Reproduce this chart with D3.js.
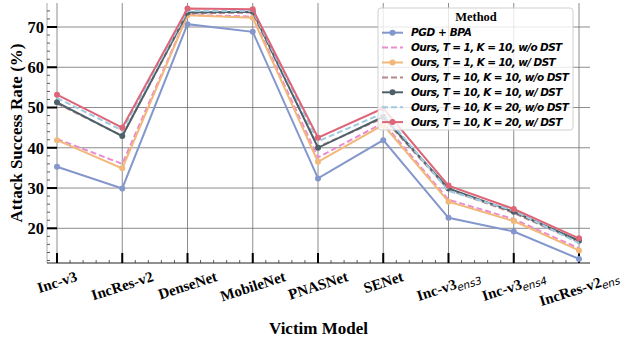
<!DOCTYPE html>
<html>
<head>
<meta charset="utf-8">
<script src="https://cdn.jsdelivr.net/npm/d3@7"></script>
<style>
  body { margin: 0; background: #fff; }
  svg { display: block; }
</style>
</head>
<body>
<div id="chart"></div>
<script>
// victim models (x axis), subscript part kept apart
const models = ["Inc-v3", "IncRes-v2", "DenseNet", "MobileNet", "PNASNet", "SENet", "Inc-v3", "Inc-v3", "IncRes-v2"]
const modelSubs = ["", "", "", "", "", "", "ens3", "ens4", "ens"]

// attack success rate (%) per method
const pgdBpa          = [35.3, 29.9, 70.7, 68.8, 32.4, 41.9, 22.6, 19.2, 12.4]
const oursT1K10woDst  = [42.2, 36.0, 73.0, 72.6, 37.6, 46.2, 27.1, 22.3, 15.0]
const oursT1K10wDst   = [41.9, 34.9, 72.9, 72.3, 36.5, 45.7, 26.6, 21.8, 14.5]
const oursT10K10woDst = [51.0, 43.0, 73.4, 73.6, 40.2, 47.4, 29.6, 23.8, 16.6]
const oursT10K10wDst  = [51.3, 42.9, 73.6, 73.8, 40.0, 47.7, 29.9, 24.1, 16.9]
const oursT10K20woDst = [52.4, 44.3, 74.0, 74.0, 41.6, 48.6, 29.3, 24.4, 16.3]
const oursT10K20wDst  = [53.2, 45.0, 74.6, 74.4, 42.5, 49.8, 30.6, 24.8, 17.5]

const yTicks = [20, 30, 40, 50, 60, 70]

const methods = [
    {name: "PGD + BPA",                   values: pgdBpa,          color: "#8497cc", dashed: false},
    {name: "Ours, T = 1, K = 10, w/o DST",  values: oursT1K10woDst,  color: "#ea8cd0", dashed: true},
    {name: "Ours, T = 1, K = 10, w/ DST",   values: oursT1K10wDst,   color: "#f2b87a", dashed: false},
    {name: "Ours, T = 10, K = 10, w/o DST", values: oursT10K10woDst, color: "#b5888a", dashed: true},
    {name: "Ours, T = 10, K = 10, w/ DST",  values: oursT10K10wDst,  color: "#4e6068", dashed: false},
    {name: "Ours, T = 10, K = 20, w/o DST", values: oursT10K20woDst, color: "#9dcbe2", dashed: true},
    {name: "Ours, T = 10, K = 20, w/ DST",  values: oursT10K20wDst,  color: "#dd6577", dashed: false}
]

const width = 621, height = 344
const plot = {left: 47, right: 590, top: 3, bottom: 263}

const x = d3.scaleLinear().domain([0, models.length - 1]).range([57, 579])
const y = d3.scaleLinear().domain([20, 70]).range([228.3, 27])

const svg = d3.select("#chart").append("svg")
    .attr("width", width)
    .attr("height", height)

const serif = "'Liberation Serif', 'Times New Roman', serif"
const sans = "'DejaVu Sans', sans-serif"

// grid
svg.append("g")
    .selectAll("line")
    .data(yTicks)
    .join("line")
    .attr("x1", plot.left).attr("x2", plot.right)
    .attr("y1", d => y(d)).attr("y2", d => y(d))
    .attr("stroke", "#6e6e6e").attr("stroke-width", 0.8)

svg.append("g")
    .selectAll("line")
    .data(models)
    .join("line")
    .attr("x1", (d, i) => x(i)).attr("x2", (d, i) => x(i))
    .attr("y1", plot.top).attr("y2", plot.bottom)
    .attr("stroke", "#6e6e6e").attr("stroke-width", 0.8)

// spines
svg.append("line")
    .attr("x1", plot.left).attr("x2", plot.left)
    .attr("y1", plot.top).attr("y2", plot.bottom)
    .attr("stroke", "#aaa").attr("stroke-width", 1)
svg.append("line")
    .attr("x1", plot.left).attr("x2", plot.right)
    .attr("y1", plot.bottom).attr("y2", plot.bottom)
    .attr("stroke", "#222").attr("stroke-width", 1)

// ticks, pointing inward
svg.append("g")
    .selectAll("line")
    .data(yTicks)
    .join("line")
    .attr("x1", plot.left).attr("x2", plot.left + 10)
    .attr("y1", d => y(d)).attr("y2", d => y(d))
    .attr("stroke", "#000").attr("stroke-width", 2)

const yMinor = d3.range(12, 77, 2).filter(v => v % 10 != 0 && y(v) > plot.top)
svg.append("g")
    .selectAll("line")
    .data(yMinor)
    .join("line")
    .attr("x1", plot.left).attr("x2", plot.left + 3)
    .attr("y1", d => y(d)).attr("y2", d => y(d))
    .attr("stroke", "#333").attr("stroke-width", 0.8)

svg.append("g")
    .selectAll("line")
    .data(models)
    .join("line")
    .attr("x1", (d, i) => x(i)).attr("x2", (d, i) => x(i))
    .attr("y1", plot.bottom).attr("y2", plot.bottom - 10)
    .attr("stroke", "#000").attr("stroke-width", 2)

var xMinor = []
for (let i = 0; i < models.length - 1; i++) {
    for (let j = 1; j < 5; j++) xMinor.push(i + j / 5)
}
svg.append("g")
    .selectAll("line")
    .data(xMinor)
    .join("line")
    .attr("x1", d => x(d)).attr("x2", d => x(d))
    .attr("y1", plot.bottom).attr("y2", plot.bottom - 3)
    .attr("stroke", "#333").attr("stroke-width", 0.8)

// y tick labels
svg.append("g")
    .selectAll("text")
    .data(yTicks)
    .join("text")
    .attr("x", plot.left - 3)
    .attr("y", d => y(d))
    .attr("dy", "0.35em")
    .attr("text-anchor", "end")
    .style("font-family", serif)
    .style("font-weight", "bold")
    .style("font-size", "16.5px")
    .text(d => d)

// x tick labels, rotated, top of their box just under the axis
const angle = 18
const rad = angle * Math.PI / 180
models.forEach(function(m, i) {
    const g = svg.append("g")
    const t = g.append("text")
        .attr("text-anchor", "middle")
        .attr("dy", "0.35em")
        .style("font-family", serif)
        .style("font-weight", "bold")
        .style("font-size", "15px")
    t.append("tspan").text(m)
    if (modelSubs[i]) {
        t.append("tspan")
            .attr("dy", 3)
            .style("font-family", sans)
            .style("font-style", "italic")
            .style("font-weight", "normal")
            .style("font-size", "10.5px")
            .text(modelSubs[i])
    }
    const w = t.node().getComputedTextLength()
    const h = 12
    const cy = 270 + (w * Math.sin(rad) + h * Math.cos(rad)) / 2
    g.attr("transform", `translate(${x(i)},${cy}) rotate(${-angle})`)
})

// axis titles
svg.append("text")
    .attr("x", (plot.left + plot.right) / 2)
    .attr("y", 334)
    .attr("text-anchor", "middle")
    .style("font-family", serif)
    .style("font-weight", "bold")
    .style("font-size", "17px")
    .text("Victim Model")

svg.append("text")
    .attr("transform", `translate(22,${(plot.top + plot.bottom) / 2}) rotate(-90)`)
    .attr("text-anchor", "middle")
    .style("font-family", serif)
    .style("font-weight", "bold")
    .style("font-size", "17px")
    .text("Attack Success Rate (%)")

// lines
const line = d3.line()
    .x((d, i) => x(i))
    .y(d => y(d))

methods.forEach(function(m) {
    svg.append("path")
        .datum(m.values)
        .attr("d", line)
        .attr("fill", "none")
        .attr("stroke", m.color)
        .attr("stroke-width", 2)
        .attr("stroke-dasharray", m.dashed ? "6,3" : null)
    if (!m.dashed) {
        svg.append("g")
            .selectAll("circle")
            .data(m.values)
            .join("circle")
            .attr("cx", (d, i) => x(i))
            .attr("cy", d => y(d))
            .attr("r", 3)
            .attr("fill", m.color)
    }
})

// legend
const lg = svg.append("g").attr("transform", "translate(378,8)")
lg.append("rect")
    .attr("width", 195).attr("height", 122)
    .attr("rx", 3)
    .attr("fill", "#fff").attr("fill-opacity", 0.8)
    .attr("stroke", "#d0d0d0").attr("stroke-width", 1)
lg.append("text")
    .attr("x", 98).attr("y", 9)
    .attr("dy", "0.35em")
    .attr("text-anchor", "middle")
    .style("font-family", serif)
    .style("font-weight", "bold")
    .style("font-size", "12.5px")
    .text("Method")

methods.forEach(function(m, i) {
    const row = lg.append("g").attr("transform", `translate(0,${24.7 + i * 14.9})`)
    row.append("line")
        .attr("x1", 4).attr("x2", 25)
        .attr("stroke", m.color).attr("stroke-width", 2)
        .attr("stroke-dasharray", m.dashed ? "6,3" : null)
    if (!m.dashed) {
        row.append("circle").attr("cx", 14.5).attr("r", 3).attr("fill", m.color)
    }
    const t = row.append("text")
        .attr("x", 33)
        .attr("dy", "0.36em")
        .style("font-family", sans)
        .style("font-weight", "bold")
        .style("font-style", "italic")
        .style("font-size", "10.5px")
        .text(m.name)
    // mathtext spacing in the original is tighter than plain text
    const len = t.node().getComputedTextLength()
    t.attr("textLength", len * (i == 0 ? 0.95 : 0.9)).attr("lengthAdjust", "spacing")
})
</script>
</body>
</html>
